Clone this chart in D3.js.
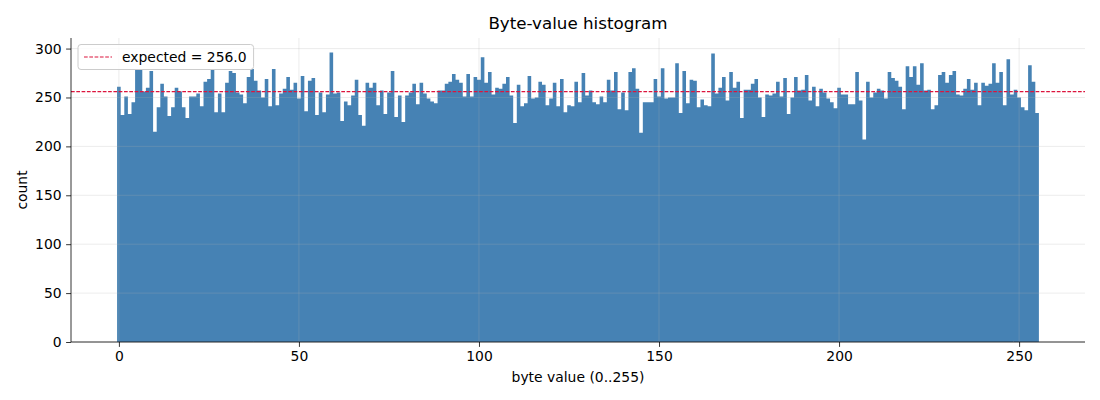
<!DOCTYPE html>
<html>
<head>
<meta charset="utf-8">
<script src="https://cdn.jsdelivr.net/npm/d3@7"></script>
<style>
  html, body { margin: 0; padding: 0; background: #fff; }
  svg { display: block; font-family: "DejaVu Sans", sans-serif; }
</style>
</head>
<body>
<svg id="chart" width="1100" height="400"></svg>
<script>
// Counts per byte value 0..255
const counts = [
  261,232,251,233,245,278,278,256,260,277,215,240,264,251,231,240,
  260,256,240,229,251,251,254,241,266,269,278,235,254,235,265,277,
  275,255,253,244,271,279,267,257,250,269,241,279,242,254,259,271,
  258,265,249,272,236,267,270,232,255,235,253,296,254,255,226,246,
  242,252,268,232,221,265,260,265,242,257,233,255,277,230,252,225,
  252,255,264,243,265,254,249,246,244,257,257,264,266,274,268,265,
  251,274,251,271,268,291,265,276,253,260,259,264,271,252,224,263,
  241,244,272,249,250,266,263,242,249,265,241,269,235,242,241,266,
  245,275,252,257,245,243,251,245,268,257,276,238,255,237,276,280,
  259,214,245,245,245,269,251,280,249,250,250,285,234,277,244,268,
  267,240,248,242,241,295,254,260,271,247,276,260,266,229,258,258,
  264,269,250,230,253,252,254,266,251,270,233,250,271,257,258,273,
  247,261,241,259,255,249,245,239,260,253,253,243,243,276,247,207,
  266,250,255,259,257,249,276,270,267,261,238,282,271,282,263,285,
  257,258,238,242,273,276,265,273,277,253,252,259,269,258,265,242,
  265,262,264,285,265,276,242,289,253,258,250,240,237,283,266,234
];
const byteValues = d3.range(256);
const expected = 256.0;
const xTicks = [0, 50, 100, 150, 200, 250];
const yTicks = [0, 50, 100, 150, 200, 250, 300];
const titleText = "Byte-value histogram";
const xLabelText = "byte value (0..255)";
const yLabelText = "count";
const legendText = "expected = " + expected.toFixed(1);

const svg = d3.select("#chart");
const m = { left: 71, right: 1085, top: 38, bottom: 342 };

const lo = -0.5, hi = 255.5, pad = (hi - lo) * 0.05;
const x = d3.scaleLinear().domain([lo - pad, hi + pad]).range([m.left, m.right]);
const y = d3.scaleLinear().domain([0, d3.max(counts) * 1.05]).range([m.bottom, m.top]);

// bars as one path (avoids anti-aliasing seams between adjacent bars)
const p = d3.path();
byteValues.forEach(d => {
  const x0 = x(d - 0.5), x1 = x(d + 0.5);
  p.rect(x0, y(counts[d]), x1 - x0, y(0) - y(counts[d]));
});
svg.append("path").attr("d", p.toString()).attr("fill", "#4682b4");

// grid on top (light, translucent)
const grid = svg.append("g").attr("stroke", "#b0b0b0").attr("stroke-opacity", 0.3).attr("stroke-width", 0.8);
grid.selectAll("line.gx").data(xTicks).join("line")
  .attr("x1", d => x(d)).attr("x2", d => x(d))
  .attr("y1", m.top).attr("y2", m.bottom);
grid.selectAll("line.gy").data(yTicks).join("line")
  .attr("x1", m.left).attr("x2", m.right)
  .attr("y1", d => y(d)).attr("y2", d => y(d));

// expected line
svg.append("line")
  .attr("x1", m.left).attr("x2", m.right)
  .attr("y1", y(expected)).attr("y2", y(expected))
  .attr("stroke", "#dc143c").attr("stroke-width", 1.1)
  .attr("stroke-dasharray", "3.7,1.6");

// axes
const xAxis = d3.axisBottom(x).tickValues(xTicks).tickSize(4.9).tickPadding(4.5).tickFormat(d3.format("d"));
const yAxis = d3.axisLeft(y).tickValues(yTicks).tickSize(4.9).tickPadding(4.5).tickFormat(d3.format("d"));

const gx = svg.append("g").attr("transform", `translate(0,${m.bottom})`).call(xAxis);
const gy = svg.append("g").attr("transform", `translate(${m.left},0)`).call(yAxis);
[gx, gy].forEach(g => {
  g.select(".domain").remove();
  g.selectAll(".tick line").attr("stroke", "#000").attr("stroke-width", 0.8);
  g.selectAll(".tick text").attr("fill", "#000").style("font-size", "13.9px").style("font-family", "DejaVu Sans");
});
// spines
svg.append("line").attr("x1", m.left).attr("x2", m.left).attr("y1", m.top).attr("y2", m.bottom)
  .attr("stroke", "#000").attr("stroke-width", 0.8);
svg.append("line").attr("x1", m.left).attr("x2", m.right).attr("y1", m.bottom).attr("y2", m.bottom)
  .attr("stroke", "#000").attr("stroke-width", 0.8);

// title & labels
svg.append("text").attr("x", (m.left + m.right) / 2).attr("y", 29)
  .attr("text-anchor", "middle").style("font-size", "16.7px").text(titleText);
svg.append("text").attr("x", (m.left + m.right) / 2).attr("y", 382)
  .attr("text-anchor", "middle").style("font-size", "13.9px").text(xLabelText);
svg.append("text").attr("transform", `translate(27,${(m.top + m.bottom) / 2}) rotate(-90)`)
  .attr("text-anchor", "middle").style("font-size", "13.9px").text(yLabelText);

// legend
const lg = svg.append("g").attr("transform", `translate(78,44.5)`);
const lgText = lg.append("text").attr("x", 44).attr("y", 17.5).style("font-size", "13.9px").text(legendText);
const tw = lgText.node().getComputedTextLength();
lg.insert("rect", "text").attr("x", 0).attr("y", 0).attr("width", 44 + tw + 7).attr("height", 25)
  .attr("rx", 3).attr("fill", "#fff").attr("fill-opacity", 0.8).attr("stroke", "#cccccc").attr("stroke-width", 1);
lg.append("line").attr("x1", 6).attr("x2", 34).attr("y1", 12.5).attr("y2", 12.5)
  .attr("stroke", "#dc143c").attr("stroke-width", 1.1).attr("stroke-dasharray", "3.7,1.6");
</script>
</body>
</html>
